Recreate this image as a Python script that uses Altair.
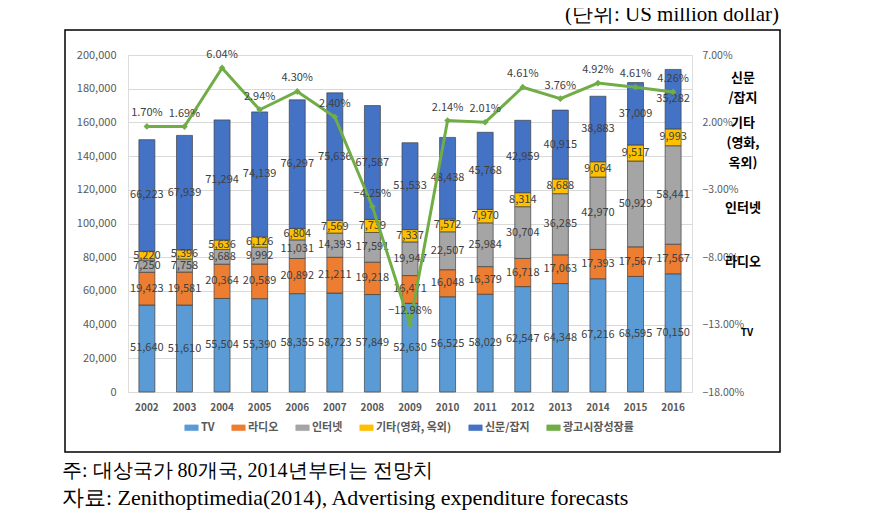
import altair as alt
import pandas as pd

years = [str(y) for y in range(2002, 2017)]
tv = [51640, 51610, 55504, 55390, 58355, 58723, 57849, 52630, 56525, 58029, 62547, 64348, 67216, 68595, 70150]
radio = [19423, 19581, 20364, 20589, 20892, 21211, 19218, 16471, 16048, 16379, 16718, 17063, 17393, 17567, 17567]
internet = [7250, 7758, 8688, 9992, 11031, 14393, 17591, 19947, 22507, 25984, 30704, 36285, 42970, 50929, 58441]
other = [5220, 5396, 5636, 6126, 6804, 7569, 7739, 7337, 7572, 7970, 8314, 8688, 9064, 9517, 9993]
news = [66223, 67939, 71294, 74139, 76297, 75636, 67587, 51533, 48438, 45768, 42959, 40915, 38883, 37009, 35282]
growth = [1.70, 1.69, 6.04, 2.94, 4.30, 2.40, -4.25, -12.98, 2.14, 2.01, 4.61, 3.76, 4.92, 4.61, 4.26]
left_ticks = [0, 20000, 40000, 60000, 80000, 100000, 120000, 140000, 160000, 180000, 200000]
right_ticks = [-18, -13, -8, -3, 2, 7]

series_names = ["TV", "라디오", "인터넷", "기타(영화, 옥외)", "신문/잡지"]
side_labels = ["TV", "라디오", "인터넷", "기타\n(영화,\n옥외)", "신문\n/잡지"]
line_name = "광고시장성장률"
colors = ["#5B9BD5", "#ED7D31", "#A5A5A5", "#FFC000", "#4472C4", "#70AD47"]

rows = []
for i, s in enumerate(series_names):
    vals = [tv, radio, internet, other, news][i]
    for y, v in zip(years, vals):
        rows.append({"year": y, "series": s, "value": v, "ord": i, "side": side_labels[i]})
bars_df = pd.DataFrame(rows)
line_df = pd.DataFrame({"year": years, "growth": growth, "series": line_name})

FONT = "Noto Sans CJK KR"
SERIF = "Liberation Serif"
color_scale = alt.Scale(domain=series_names + [line_name], range=colors)
x_axis = alt.Axis(title=None, domain=False, ticks=False, labelAngle=0,
                  labelFontSize=10, labelFontWeight="bold", labelColor="#595959",
                  labelPadding=10, labelFont=FONT)
x_scale = alt.Scale(paddingInner=0.575, paddingOuter=0.29)

def xenc():
    return alt.X("year:N", sort=years, scale=x_scale, axis=x_axis)

base = alt.Chart(bars_df).transform_stack(
    stack="value", groupby=["year"], as_=["v0", "v1"],
    sort=[alt.SortField("ord", order="ascending")]
).transform_calculate(mid="(datum.v0 + datum.v1) / 2")

yscale = alt.Scale(domain=[0, 200000], nice=False, zero=True)
left_axis = alt.Axis(title=None, values=left_ticks, tickCount=len(left_ticks) + 5, format=",d",
                     grid=True, gridColor="#d9d9d9", domain=False, ticks=False,
                     labelOverlap=False,
                     labelColor="#595959", labelFontSize=11, labelPadding=12, labelFont=FONT)

bars = base.mark_bar(stroke="#404040", strokeWidth=0.7).encode(
    x=xenc(),
    y=alt.Y("v0:Q", scale=yscale, axis=left_axis),
    y2="v1:Q",
    color=alt.Color("series:N", scale=color_scale,
                    legend=alt.Legend(title=None, orient="none", direction="horizontal", columns=6,
                                      legendX=56, legendY=365,
                                      symbolType="M-1,-0.42H1V0.42H-1Z", symbolSize=180,
                                      labelFontSize=11, labelFont=FONT, labelColor="#595959",
                                      labelFontWeight="bold",
                                      columnPadding=15, labelOffset=2, symbolStrokeWidth=0.6,
                                      symbolStrokeColor="#404040")),
)
bar_text = base.mark_text(fontSize=11, color="#404040", font=FONT).encode(
    x=xenc(),
    y=alt.Y("mid:Q", scale=yscale, axis=left_axis),
    text=alt.Text("value:Q", format=",d"),
)

side_dy = {"TV": 0, "라디오": 3, "인터넷": 13, "기타(영화, 옥외)": -14, "신문/잡지": -21}
side_layers = []
for s in series_names:
    side_layers.append(
        base.transform_filter(f"datum.year == '2016' && datum.series == '{s}'")
        .mark_text(fontSize=10 if s == "TV" else 13, fontWeight="bold", color="#000000",
                   font=FONT, lineBreak="\n", lineHeight=20, dy=side_dy[s])
        .encode(x=alt.value(619 if s == "TV" else 615),
                y=alt.Y("mid:Q", scale=yscale, axis=left_axis), text="side:N")
    )

deco_df = pd.DataFrame({"k": [0]})
frame = alt.Chart(deco_df).mark_rect(fillOpacity=0, stroke="#000000", strokeWidth=1.5).encode(
    x=alt.value(-63), x2=alt.value(652), y=alt.value(-25), y2=alt.value(397))
unit = alt.Chart(deco_df).mark_text(text="(단위: US million dollar)", align="right", baseline="middle",
                                    fontSize=21, font=SERIF, color="#000000").encode(
    x=alt.value(651), y=alt.value(-40))
note1 = alt.Chart(deco_df).mark_text(text="주: 대상국가 80개국, 2014년부터는 전망치", align="left",
                                     baseline="middle", fontSize=20, font=SERIF,
                                     color="#000000").encode(
    x=alt.value(-66), y=alt.value(416))
note2 = alt.Chart(deco_df).mark_text(text="자료: Zenithoptimedia(2014), Advertising expenditure forecasts",
                                     align="left", baseline="middle", fontSize=22, font=SERIF,
                                     color="#000000").encode(
    x=alt.value(-66), y=alt.value(443))

left_layer = alt.layer(bars, bar_text, *side_layers, frame, unit, note1, note2)

gscale = alt.Scale(domain=[-18, 7], nice=False, zero=False)
right_axis = alt.Axis(title=None, orient="right", values=right_ticks, tickCount=len(right_ticks) + 5,
                      labelExpr="format(datum.value, '.2f') + '%'", grid=False, domain=False,
                      ticks=False, labelColor="#595959", labelFontSize=10.5, labelPadding=10,
                      labelOverlap=False, labelFont=FONT)
lbase = alt.Chart(line_df).transform_calculate(lab="format(datum.growth, '.2f') + '%'")
line = lbase.mark_line(strokeWidth=3,
                       point=alt.OverlayMarkDef(shape="diamond", size=45, filled=True, color="#70AD47")).encode(
    x=xenc(),
    y=alt.Y("growth:Q", scale=gscale, axis=right_axis),
    color=alt.Color("series:N", scale=color_scale),
)
line_text = lbase.mark_text(fontSize=11, color="#404040", dy=-13, font=FONT).encode(
    x=xenc(),
    y=alt.Y("growth:Q", scale=gscale, axis=right_axis),
    text="lab:N",
)
right_layer = alt.layer(line, line_text)

chart = alt.layer(left_layer, right_layer).resolve_scale(y="independent").properties(
    width=564, height=337,
    autosize=alt.AutoSizeParams(type="none"),
    padding={"left": 120, "top": 47, "right": 192, "bottom": 120},
).configure_view(stroke=None).configure(background="white")

chart.save("out.html", embed_options={"renderer": "svg", "actions": False})
